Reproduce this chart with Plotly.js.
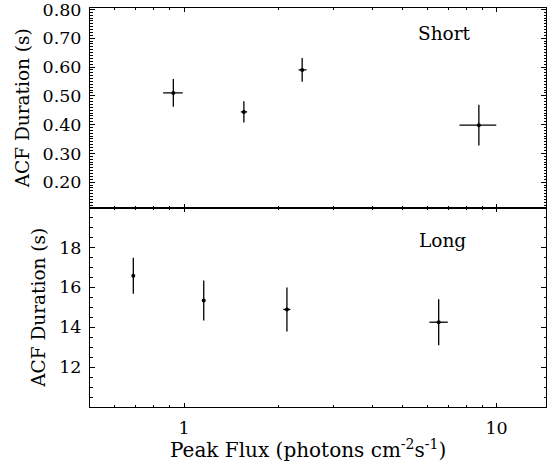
<!DOCTYPE html>
<html>
<head>
<meta charset="utf-8">
<script src="https://cdn.plot.ly/plotly-3.0.1.min.js"></script>
<style>html,body{margin:0;padding:0;background:#fff;}#chart{width:547px;height:466px;}</style>
</head>
<body>
<div id="chart"></div>
<script>
// Short bursts (upper panel)
const shortFlux = [0.924, 1.554, 2.388, 8.78];
const shortFluxLo = [0.857, 1.519, 2.325, 7.61];
const shortFluxHi = [0.990, 1.592, 2.466, 9.98];
const shortDur = [0.510, 0.444, 0.590, 0.398];
const shortDurErr = [0.048, 0.037, 0.041, 0.071];
// Long bursts (lower panel)
const longFlux = [0.688, 1.156, 2.134, 6.53];
const longFluxLo = [0.688, 1.156, 2.077, 6.10];
const longFluxHi = [0.688, 1.156, 2.19, 6.98];
const longDur = [16.58, 15.34, 14.89, 14.25];
const longDurErr = [0.90, 1.00, 1.10, 1.15];

const xMajor = [1, 10];
const xMinor = [0.5,0.6,0.7,0.8,0.9,2,3,4,5,6,7,8,9];
const shortTicks = [0.2,0.3,0.4,0.5,0.6,0.7,0.8];
const longTicks = [12,14,16,18];

const TICKFONT = {family: '"DejaVu Serif", serif', size: 17.5, color: '#000'};
const YTITLEFONT = {family: '"DejaVu Serif", serif', size: 18.5, color: '#000'};
const XTITLEFONT = {family: '"DejaVu Serif", serif', size: 20, color: '#000'};
const LABELFONT = {family: '"DejaVu Serif", serif', size: 18.5, color: '#000'};

function errx(x, lo, hi){
  return {type:'data', symmetric:false,
    array: x.map((v,i)=>hi[i]-v), arrayminus: x.map((v,i)=>v-lo[i]),
    color:'#000', thickness:1.3, width:0};
}

const traces = [
  {x: shortFlux, y: shortDur, xaxis:'x2', yaxis:'y2', type:'scatter', mode:'markers',
   marker:{color:'#000', size:4},
   error_y:{type:'data', array: shortDurErr, color:'#000', thickness:1.3, width:0},
   error_x: errx(shortFlux, shortFluxLo, shortFluxHi)},
  {x: longFlux, y: longDur, xaxis:'x', yaxis:'y', type:'scatter', mode:'markers',
   marker:{color:'#000', size:4},
   error_y:{type:'data', array: longDurErr, color:'#000', thickness:1.3, width:0},
   error_x: errx(longFlux, longFluxLo, longFluxHi)}
];

const xcommon = {
  type:'log', range:[Math.log10(0.5), Math.log10(14.4)],
  showline:true, linecolor:'#000', linewidth:1, mirror:'ticks',
  ticks:'inside', ticklen:4, tickcolor:'#000', tickwidth:1,
  tickmode:'array', tickvals: xMajor, ticktext: xMajor.map(String),
  minor:{tickmode:'array', tickvals: xMinor, ticks:'inside', ticklen:2, tickcolor:'#000', showgrid:false},
  showgrid:false, zeroline:false, tickfont: TICKFONT, ticklabeloverflow:'allow'
};

const layout = {
  width:547, height:466,
  margin:{l:90, r:1, t:8, b:59},
  paper_bgcolor:'#fff', plot_bgcolor:'#fff',
  showlegend:false,
  font: TICKFONT,
  xaxis: Object.assign({}, xcommon, {anchor:'y', ticklabelstandoff:5}),
  xaxis2: Object.assign({}, xcommon, {anchor:'y2', matches:'x', showticklabels:false}),
  yaxis: {domain:[0,0.5], range:[10,20], anchor:'x',
    showline:true, linecolor:'#000', linewidth:1, mirror:'ticks',
    ticks:'inside', ticklen:5, tickcolor:'#000', tickwidth:1,
    tickmode:'array', tickvals: longTicks, ticktext: longTicks.map(String),
    minor:{dtick:0.5, tick0:10, ticks:'inside', ticklen:2.5, tickcolor:'#000', showgrid:false},
    showgrid:false, zeroline:false, tickfont:TICKFONT, ticklabelstandoff:4, ticklabeloverflow:'allow',
    title:{text:'ACF Duration (s)', font:YTITLEFONT, standoff:8}},
  yaxis2: {domain:[0.5,1], range:[0.112,0.805], anchor:'x2',
    showline:true, linecolor:'#000', linewidth:1, mirror:'ticks',
    ticks:'inside', ticklen:5, tickcolor:'#000', tickwidth:1,
    tickmode:'array', tickvals: shortTicks, ticktext: shortTicks.map(v=>v.toFixed(2)),
    minor:{dtick:0.01, tick0:0, ticks:'inside', ticklen:2.5, tickcolor:'#000', showgrid:false},
    showgrid:false, zeroline:false, tickfont:TICKFONT, ticklabelstandoff:4, ticklabeloverflow:'allow',
    title:{text:'ACF Duration (s)', font:YTITLEFONT, standoff:8}},
  annotations:[
    {text:'Short', xref:'paper', yref:'paper', x:0.716, y:0.937, xanchor:'left', yanchor:'middle', showarrow:false, font:LABELFONT},
    {text:'Long', xref:'paper', yref:'paper', x:0.718, y:0.418, xanchor:'left', yanchor:'middle', showarrow:false, font:LABELFONT},
    {text:'Peak Flux (photons cm<sup>-2</sup>s<sup>-1</sup>)', xref:'paper', yref:'paper', x:0.477, y:-0.106,
     xanchor:'center', yanchor:'middle', showarrow:false, font:XTITLEFONT}
  ]
};

Plotly.newPlot('chart', traces, layout, {staticPlot:true, displayModeBar:false});
</script>
</body>
</html>
